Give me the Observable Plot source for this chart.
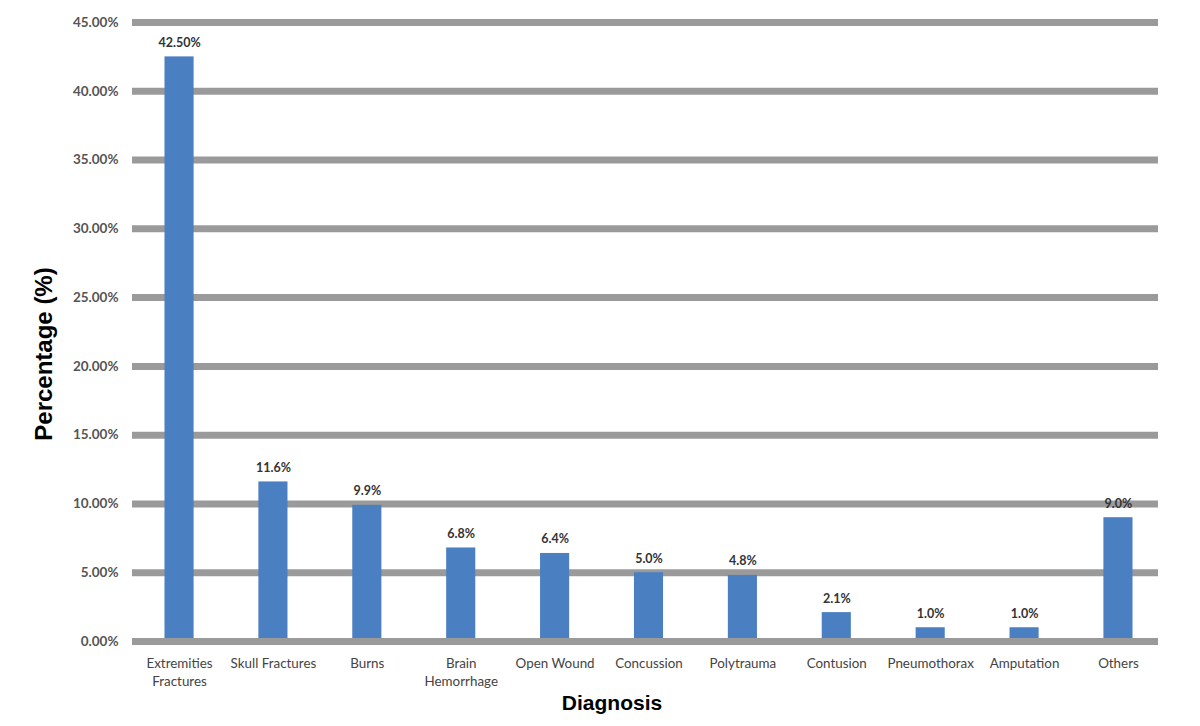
<!DOCTYPE html>
<html><head><meta charset="utf-8">
<script src="https://cdn.jsdelivr.net/npm/d3@7"></script>
<script src="https://cdn.jsdelivr.net/npm/@observablehq/plot@0.6"></script>
<style>body{margin:0;background:#fff}</style>
</head><body><div id="chart"></div>
<script>
const categories = ["Extremities\nFractures","Skull Fractures","Burns","Brain\nHemorrhage","Open Wound","Concussion","Polytrauma","Contusion","Pneumothorax","Amputation","Others"];
const values = [42.5, 11.6, 9.9, 6.8, 6.4, 5.0, 4.8, 2.1, 1.0, 1.0, 9.0];
const valueLabels = ["42.50%","11.6%","9.9%","6.8%","6.4%","5.0%","4.8%","2.1%","1.0%","1.0%","9.0%"];
const yTicks = [0,5,10,15,20,25,30,35,40,45];

const data = categories.map((c,i)=>({cat:c, v:values[i], lab:valueLabels[i]}));
const chart = Plot.plot({
  width:1200, height:726,
  marginLeft:132, marginRight:35, marginTop:22, marginBottom:85,
  style:{fontFamily:"Lato, 'Open Sans', sans-serif", background:"#fff"},
  x:{domain:categories, paddingInner:0.69, paddingOuter:0.346, round:false, label:null},
  y:{domain:[0,45], label:null},
  marks:[
    Plot.ruleY(yTicks.filter(d=>d>0), {stroke:"#9a9a9a", strokeWidth:7, insetRight:7}),
    Plot.barY(data, {x:"cat", y:"v", fill:"#4a7fc1"}),
    Plot.ruleY([0], {stroke:"#9a9a9a", strokeWidth:7, insetRight:7}),
    Plot.text(data, {x:"cat", y:"v", text:"lab", dy:-14, fontSize:12.5, fontWeight:"bold", fill:"#333"}),
    Plot.axisY({ticks:yTicks, tickSize:0, tickPadding:14, tickFormat:d=>d.toFixed(2)+"%", fontSize:13.5, fontWeight:"bold", fill:"#555", label:null}),
    Plot.axisX({tickSize:0, tickPadding:14, fontSize:13.4, fill:"#444", label:null, lineHeight:1.35}),
    Plot.text(["Percentage (%)"], {frameAnchor:"left", textAnchor:"middle", rotate:-90, dx:-88, dy:22, fontSize:24, fontWeight:"bold", fill:"#000", fontFamily:"Liberation Sans, Arial, sans-serif"}),
    Plot.text(["Diagnosis"], {frameAnchor:"bottom", dx:-37, dy:68, fontSize:21, fontWeight:"bold", fill:"#000", fontFamily:"Liberation Sans, Arial, sans-serif"})
  ]
});
document.getElementById("chart").appendChild(chart);
</script></body></html>
